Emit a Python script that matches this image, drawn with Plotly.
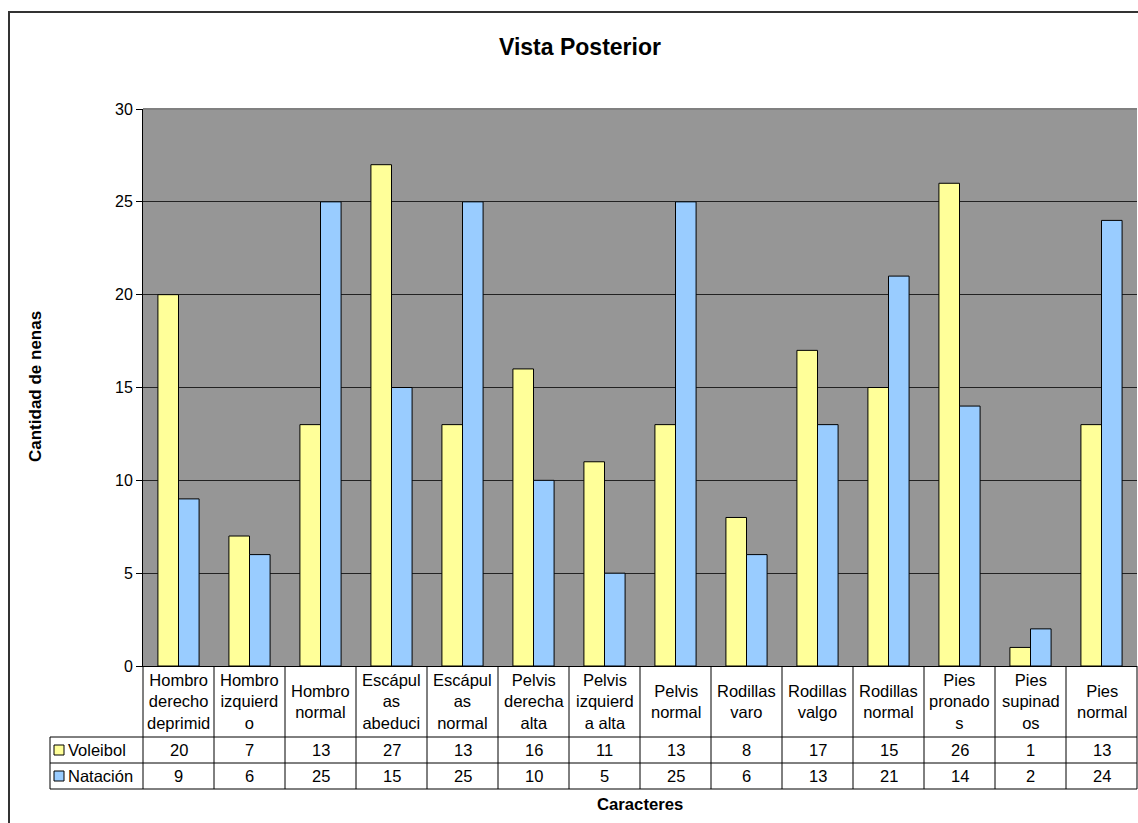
import plotly.graph_objects as go

categories = [
    "Hombro<br>derecho<br>deprimid", "Hombro<br>izquierd<br>o", "Hombro<br>normal",
    "Escápul<br>as<br>abeduci", "Escápul<br>as<br>normal", "Pelvis<br>derecha<br>alta",
    "Pelvis<br>izquierd<br>a alta", "Pelvis<br>normal", "Rodillas<br>varo",
    "Rodillas<br>valgo", "Rodillas<br>normal", "Pies<br>pronado<br>s",
    "Pies<br>supinad<br>os", "Pies<br>normal",
]
voleibol = [20, 7, 13, 27, 13, 16, 11, 13, 8, 17, 15, 26, 1, 13]
natacion = [9, 6, 25, 15, 25, 10, 5, 25, 6, 13, 21, 14, 2, 24]
series_names = ["Voleibol", "Natación"]
series_colors = ["#FFFF99", "#99CCFF"]
y_ticks = [0, 5, 10, 15, 20, 25, 30]

W, H = 1138, 823
L, R, T, B = 143, 1137, 109, 666
pw, ph = R - L, B - T
FONT = "Arial, Liberation Sans, sans-serif"

def px(x):
    return (x - L) / pw

def py(y):
    return (B - y) / ph

n = len(categories)
xs = list(range(n))

fig = go.Figure()
for name, vals, col in zip(series_names, [voleibol, natacion], series_colors):
    fig.add_trace(go.Bar(
        x=xs, y=vals, name=name, marker=dict(color=col, line=dict(color="black", width=1)),
        showlegend=False,
    ))

shapes = []
annotations = []

# outer frame
shapes.append(dict(type="rect", xref="paper", yref="paper",
                   x0=px(9), x1=px(1145), y0=py(830), y1=py(12),
                   line=dict(color="#333333", width=2), layer="below"))
# plot top border
shapes.append(dict(type="line", xref="paper", yref="paper", x0=0, x1=1, y0=1, y1=1,
                   line=dict(color="#808080", width=2)))

# table lines
row_lines = [737, 763, 789]
for yy in row_lines:
    shapes.append(dict(type="line", xref="paper", yref="paper",
                       x0=px(50), x1=1.0, y0=py(yy), y1=py(yy),
                       line=dict(color="black", width=1)))
shapes.append(dict(type="line", xref="paper", yref="paper",
                   x0=px(50), x1=px(50), y0=py(737), y1=py(789),
                   line=dict(color="black", width=1)))
for i in range(n + 1):
    xp = i / n
    shapes.append(dict(type="line", xref="paper", yref="paper",
                       x0=xp, x1=xp, y0=py(666), y1=py(789),
                       line=dict(color="black", width=1)))

TS = 16.5
# header labels
for i, c in enumerate(categories):
    annotations.append(dict(x=i, y=py(701.5), xref="x", yref="paper", text=c,
                            showarrow=False, font=dict(family=FONT, size=TS, color="black"),
                            xanchor="center", yanchor="middle", align="center"))
# values rows
row_centers = [750, 776]
for vals, yc in zip([voleibol, natacion], row_centers):
    for i, v in enumerate(vals):
        annotations.append(dict(x=i, y=py(yc), xref="x", yref="paper", text=str(v),
                                showarrow=False, font=dict(family=FONT, size=TS, color="black"),
                                xanchor="center", yanchor="middle"))
# legend keys in table
for name, col, yc in zip(series_names, series_colors, row_centers):
    shapes.append(dict(type="rect", xref="paper", yref="paper",
                       x0=px(54), x1=px(64), y0=py(yc + 5), y1=py(yc - 5),
                       fillcolor=col, line=dict(color="black", width=1)))
    annotations.append(dict(x=px(66), y=py(yc), xref="paper", yref="paper", text=name,
                            showarrow=False, font=dict(family=FONT, size=TS, color="black"),
                            xanchor="left", yanchor="middle"))

# titles
annotations.append(dict(x=px(580), y=py(47), xref="paper", yref="paper",
                        text="<b>Vista Posterior</b>", showarrow=False,
                        font=dict(family=FONT, size=23, color="black"),
                        xanchor="center", yanchor="middle"))
annotations.append(dict(x=px(640), y=py(804), xref="paper", yref="paper",
                        text="<b>Caracteres</b>", showarrow=False,
                        font=dict(family=FONT, size=16.7, color="black"),
                        xanchor="center", yanchor="middle"))
annotations.append(dict(x=px(35), y=py(387), xref="paper", yref="paper",
                        text="<b>Cantidad de nenas</b>", showarrow=False, textangle=-90,
                        font=dict(family=FONT, size=17, color="black"),
                        xanchor="center", yanchor="middle"))

fig.update_layout(
    width=W, height=H,
    margin=dict(l=L, r=W - R, t=T, b=H - B, pad=0),
    paper_bgcolor="white", plot_bgcolor="#969696",
    barmode="group", bargap=0.42, bargroupgap=0,
    shapes=shapes, annotations=annotations,
    font=dict(family=FONT, size=16, color="black"),
    xaxis=dict(range=[-0.5, n - 0.5], showticklabels=False, ticks="", showgrid=False,
               zeroline=False, showline=True, linecolor="black", linewidth=1, fixedrange=True),
    yaxis=dict(range=[0, 30], tickvals=y_ticks, ticks="outside", ticklen=6, tickcolor="black",
               tickfont=dict(family=FONT, size=16, color="black"),
               showgrid=True, gridcolor="#222222", gridwidth=1, zeroline=False,
               showline=True, linecolor="black", linewidth=1, fixedrange=True),
)

fig.write_html("out.html", config={"displayModeBar": False})
